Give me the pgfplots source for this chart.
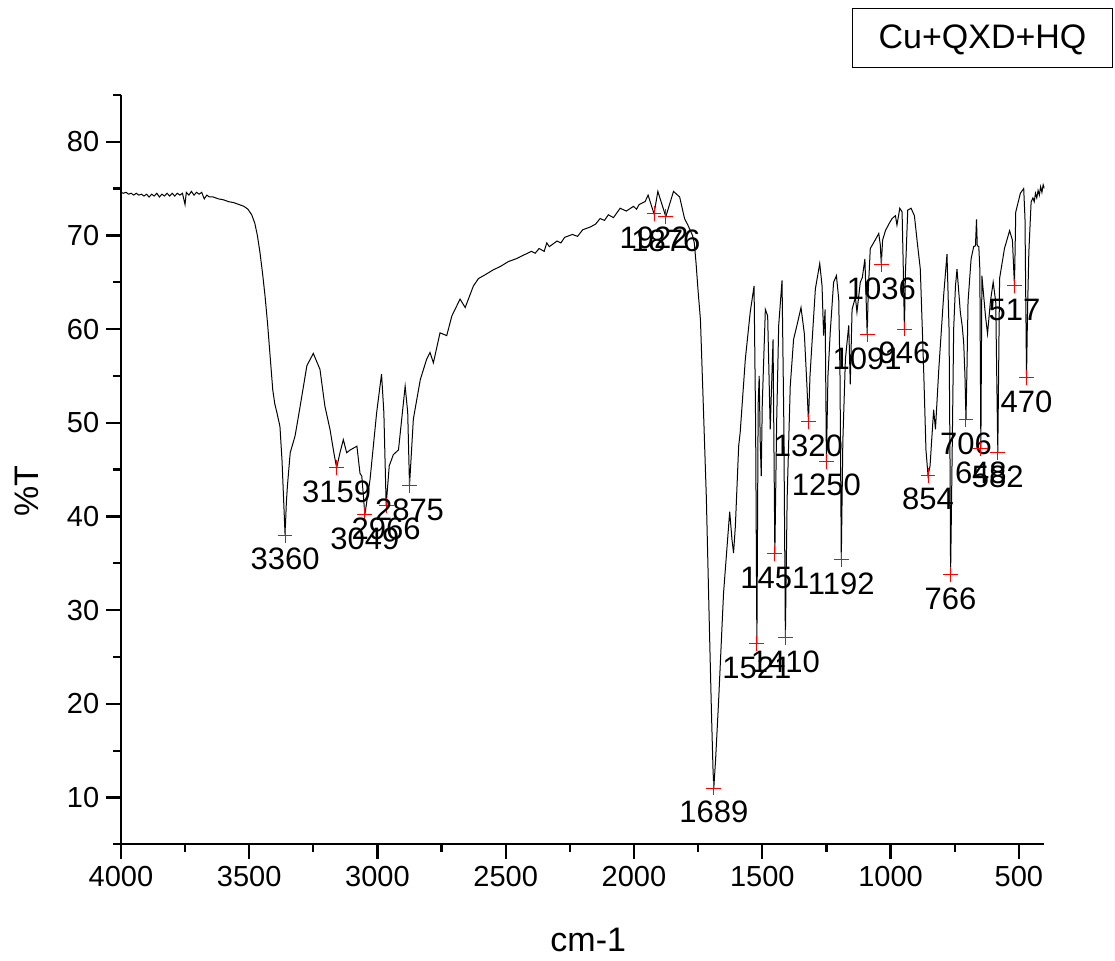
\documentclass[border=0pt]{standalone}
\usepackage{fontspec}
\setmainfont{Liberation Sans}
\usepackage{pgfplots}
\usepackage{pgfplotstable}
\pgfplotsset{compat=1.18}

% IR spectrum
\pgfplotstableread{
w T
4000 74.6
3990 74.5
3980 74.6
3970 74.4
3960 74.5
3950 74.3
3940 74.5
3930 74.3
3920 74.4
3910 74.2
3900 74.4
3890 74.1
3880 74.4
3870 74.2
3860 74.5
3850 74.1
3840 74.4
3830 74.2
3820 74.5
3810 74.2
3800 74.5
3790 74.2
3780 74.5
3770 74.3
3760 74.5
3750 73.3
3745 74.6
3735 74.3
3725 74.7
3715 74.3
3705 74.6
3695 74.4
3685 74.6
3675 73.9
3665 74.3
3655 74.1
3640 74.1
3620 73.9
3600 73.8
3580 73.6
3560 73.5
3540 73.3
3520 73.1
3505 72.8
3490 72.2
3478 71.3
3468 70.0
3458 68.2
3448 66.0
3438 63.5
3428 60.5
3418 57.0
3408 53.5
3400 52.0
3392 51.1
3380 49.6
3372 46.0
3366 42.0
3360 38.0
3355 41.5
3351 43.2
3340 46.8
3321 48.6
3301 51.8
3275 56.1
3250 57.4
3224 55.7
3205 51.8
3185 49.3
3168 46.5
3159 45.2
3146 46.8
3133 48.2
3120 46.8
3106 47.1
3080 47.5
3068 44.6
3061 44.3
3049 40.2
3029 43.9
3003 51.1
2984 55.2
2975 51.1
2966 41.2
2954 45.4
2938 46.6
2918 47.1
2892 53.9
2882 51.1
2875 43.3
2860 50.4
2833 54.6
2808 56.8
2795 57.5
2782 56.4
2756 59.6
2730 59.3
2710 61.4
2678 63.2
2658 62.3
2626 64.6
2606 65.4
2580 65.8
2550 66.3
2520 66.7
2490 67.2
2460 67.5
2430 67.9
2400 68.3
2385 68.1
2370 68.6
2350 68.3
2340 69.2
2330 68.8
2300 69.4
2285 69.2
2270 69.8
2240 70.1
2220 69.9
2200 70.6
2170 70.9
2150 71.2
2132 71.8
2115 71.6
2100 72.2
2080 71.9
2054 72.9
2030 72.6
2002 73.1
1990 72.8
1980 73.3
1957 73.6
1945 74.3
1922 72.3
1907 74.7
1876 72.0
1846 74.7
1822 74.1
1803 71.8
1790 71.1
1772 70.0
1765 69.2
1758 67.0
1750 64.0
1741 61.0
1730 52.0
1718 42.0
1706 28.0
1698 19.0
1692 13.0
1689 11.0
1682 14.0
1670 20.4
1651 31.8
1627 40.5
1618 37.5
1612 36.1
1605 38.9
1592 47.5
1586 49.0
1566 56.8
1547 61.8
1532 64.6
1526 50.0
1521 26.4
1516 52.0
1512 55.0
1508 48.0
1504 44.3
1500 52.0
1488 62.1
1479 61.4
1469 49.3
1458 58.9
1451 36.0
1444 50.0
1436 60.4
1423 65.2
1416 50.0
1410 27.1
1403 42.0
1391 53.9
1378 58.9
1364 60.5
1349 62.3
1336 59.5
1326 54.0
1320 50.1
1314 55.0
1306 58.6
1293 64.3
1276 67.0
1267 64.6
1261 59.3
1255 62.1
1250 45.9
1244 55.0
1235 59.7
1222 65.0
1211 65.7
1202 63.2
1197 55.0
1192 35.4
1186 48.0
1176 56.8
1163 60.4
1157 54.1
1150 62.1
1137 63.4
1131 61.8
1118 65.0
1110 65.5
1100 67.5
1095 63.0
1091 59.4
1087 64.0
1079 68.6
1060 69.5
1046 70.2
1040 69.0
1036 66.9
1031 69.5
1020 70.5
1007 71.2
994 71.8
981 72.1
975 71.1
964 72.9
955 72.5
950 66.0
946 60.0
942 66.0
933 72.7
920 72.9
907 72.1
896 69.3
884 66.4
871 55.7
862 47.1
854 44.4
846 45.4
840 48.0
832 51.4
825 49.3
812 55.7
793 63.6
780 68.0
772 60.0
768 45.0
766 33.8
763 40.0
759 48.6
754 60.0
747 64.6
741 66.4
728 61.8
721 60.4
715 58.6
710 55.0
706 50.3
702 56.0
698 62.9
686 67.5
676 68.8
669 68.9
665 71.7
662 68.9
656 68.8
652 66.4
648 47.2
644 65.7
630 61.4
622 59.5
611 62.9
600 65.0
590 62.9
582 46.8
575 65.4
556 68.6
536 70.5
525 69.5
517 64.6
512 72.5
494 74.5
481 75.0
476 71.8
470 54.8
466 62.0
461 68.2
452 73.6
445 74.0
440 73.6
435 74.5
430 74.0
425 74.8
420 74.3
415 75.2
410 74.6
405 75.4
400 75.0
}\spectrum

% picked peaks
\pgfplotstableread{
w T label
3360 38.0 3360
3159 45.2 3159
3049 40.2 3049
2966 41.2 2966
2875 43.3 2875
1922 72.3 1922
1876 72.0 1876
1689 11.0 1689
1521 26.4 1521
1451 36.0 1451
1410 27.1 1410
1320 50.1 1320
1250 45.9 1250
1192 35.4 1192
1091 59.4 1091
1036 66.9 1036
946 60.0 946
854 44.4 854
766 33.8 766
706 50.3 706
648 47.2 648
582 46.8 582
517 64.6 517
470 54.8 470
}\peaks

\begin{document}
\begin{tikzpicture}
\useasboundingbox (-60.45pt,-58.35pt) rectangle (497.05pt,422.15pt);
\begin{axis}[
    scale only axis,
    width=461.8pt, height=374.7pt,
    x dir=reverse,
    xmin=400, xmax=4000,
    ymin=5, ymax=85,
    axis x line*=bottom, axis y line*=left,
    xtick={500,1000,...,4000},
    minor xtick={750,1250,...,3750},
    ytick={10,20,...,80},
    minor ytick={5,15,...,85},
    tick align=outside,
    major tick length=7.3pt, minor tick length=3.8pt,
    every tick/.style={black, line width=1.1pt},
    axis line style={line width=1.2pt},
    tick label style={font=\fontsize{14.5}{17}\selectfont},
    /pgf/number format/assume math mode=true,
    scaled ticks=false,
    xticklabel style={/pgf/number format/1000 sep={}},
    xlabel={cm-1}, ylabel={\%T},
    label style={font=\fontsize{17}{20}\selectfont},
    xlabel style={at={(axis description cs:0.506,-0.1277)}, anchor=center},
    ylabel style={at={(axis description cs:-0.1017,0.471)}, anchor=center},
    legend image code/.code={},
    legend style={at={(axis description cs:1.0742,1.1161)}, anchor=north east,
        draw=black, line width=0.6pt, font=\fontsize{17}{20}\selectfont,
        inner xsep=11pt, inner ysep=6pt},
]
\addplot[black, line width=0.5pt] table[x=w, y=T] {\spectrum};
\addlegendentry{Cu+QXD+HQ}
\addplot[only marks, mark=+, mark size=3.7pt, red, mark options={line width=0.5pt},
    nodes near coords, point meta=explicit symbolic,
    every node near coord/.append style={text=black, anchor=north, yshift=-6.3pt,
        inner sep=0pt, font=\fontsize{15.5}{18}\selectfont},
    forget plot] table[x=w, y=T, meta=label] {\peaks};
\end{axis}
\end{tikzpicture}
\end{document}
